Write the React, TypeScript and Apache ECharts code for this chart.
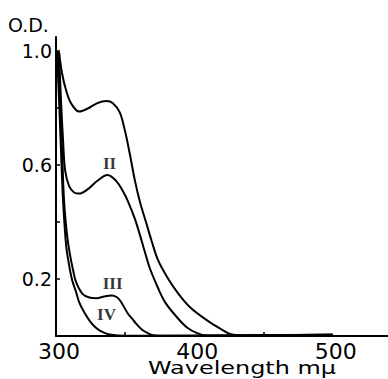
import React, { useEffect, useRef } from 'react';
import * as echarts from 'echarts';

// Curve I
const curveIX = [302.2, 304.4, 307.3, 310.9, 316.8, 322.6, 329.9, 336.5, 340.9, 346.0, 349.6, 353.3, 356.9, 360.6, 365.0, 369.3, 373.7, 380.3, 387.6, 397.1, 409.5, 419.0, 426.3, 433.6, 450, 500];
const curveIY = [0.996, 0.922, 0.863, 0.817, 0.788, 0.798, 0.818, 0.825, 0.818, 0.786, 0.726, 0.641, 0.549, 0.472, 0.401, 0.331, 0.267, 0.207, 0.154, 0.1, 0.054, 0.025, 0.006, 0.002, 0.003, 0.005];
// Curve II
const curveIIX = [302.2, 303.6, 305.1, 306.6, 309.5, 313.1, 316.8, 322.6, 329.9, 337.2, 343.6, 348.4, 352.0, 356.9, 360.6, 364.2, 367.9, 372.8, 378.8, 387.4, 394.7, 402.0, 408.8, 420, 500];
const curveIIY = [0.996, 0.828, 0.687, 0.582, 0.526, 0.504, 0.5, 0.514, 0.545, 0.565, 0.544, 0.508, 0.473, 0.413, 0.356, 0.296, 0.237, 0.179, 0.119, 0.066, 0.03, 0.01, 0.002, 0.002, 0.004];
// Curve III
const curveIIIX = [301.5, 302.9, 304.4, 305.8, 308.0, 310.2, 312.4, 314.6, 319.0, 324.1, 329.2, 335.0, 340.1, 343.8, 346.7, 351.8, 355.5, 358.4, 362.0, 365.7, 370.1, 380, 500];
const curveIIIY = [1.0, 0.828, 0.652, 0.477, 0.354, 0.283, 0.23, 0.188, 0.149, 0.135, 0.133, 0.139, 0.142, 0.137, 0.122, 0.08, 0.058, 0.041, 0.023, 0.012, 0.003, 0.001, 0.003];
// Curve IV
const curveIVX = [300.7, 302.2, 303.6, 305.1, 307.3, 309.5, 311.7, 314.6, 316.8, 320.4, 324.1, 327.7, 331.4, 335.0, 338.7, 344.5, 360, 500];
const curveIVY = [1.0, 0.828, 0.652, 0.476, 0.319, 0.248, 0.196, 0.153, 0.118, 0.083, 0.055, 0.034, 0.02, 0.011, 0.005, 0.002, 0.001, 0.002];

// Curve annotations
const labelNames = ['II', 'III', 'IV'];
const labelX = [338.7, 340.9, 336.5];
const labelY = [0.607, 0.186, 0.074];

// Axis ticks / labels
const xLabelValues = [300, 400, 500];
const xTickValues = [350, 450];
const yLabelValues = [0.2, 0.6, 1.0];
const yTickValues = [0.2, 0.4, 0.6, 0.8, 1.0];

const zip = (xs: number[], ys: number[]) => xs.map((x, i) => [x, ys[i]]);

export default function App() {
  const ref = useRef<HTMLDivElement>(null);
  useEffect(() => {
    const chart = echarts.init(ref.current!, null, { renderer: 'svg' });
    const lineStyle = { color: '#000', width: 2 };
    const curve = (name: string, xs: number[], ys: number[]) => ({
      name,
      type: 'line',
      data: zip(xs, ys),
      smooth: 0.35,
      showSymbol: false,
      symbol: 'none',
      lineStyle,
      z: 3,
    });
    chart.setOption({
      animation: false,
      backgroundColor: '#fff',
      grid: { left: 56, right: 0, top: 37, bottom: 43 },
      xAxis: {
        type: 'value',
        min: 300,
        max: 540,
        axisLine: { show: true, onZero: false, lineStyle: { color: '#000', width: 2 } },
        axisTick: { show: true, inside: true, length: 4, customValues: xTickValues, lineStyle: { color: '#000', width: 1.5 } },
        axisLabel: { customValues: xLabelValues, color: '#000', fontSize: 22, fontFamily: 'DejaVu Sans', margin: 4, padding: [0, 0, 0, 6] },
        splitLine: { show: false },
      },
      yAxis: {
        type: 'value',
        min: 0,
        max: 1.05,
        axisLine: { show: true, onZero: false, lineStyle: { color: '#000', width: 2 } },
        axisTick: { show: true, inside: true, length: 4, customValues: yTickValues, lineStyle: { color: '#000', width: 1.5 } },
        axisLabel: {
          customValues: yLabelValues,
          color: '#000',
          fontSize: 19,
          fontFamily: 'DejaVu Sans',
          margin: 4,
          padding: [0, 0, 8, 0],
          formatter: (v: number) => v.toFixed(1),
        },
        splitLine: { show: false },
      },
      graphic: [
        { type: 'text', left: 8, top: 15, style: { text: 'O.D.', font: '19px DejaVu Sans', fill: '#000' } },
        { type: 'text', x: 148, y: 359, scaleX: 1.33, style: { text: 'Wavelength mμ', font: '18px DejaVu Sans', fill: '#000' } },
      ],
      series: [
        curve('I', curveIX, curveIY),
        curve('II', curveIIX, curveIIY),
        curve('III', curveIIIX, curveIIIY),
        curve('IV', curveIVX, curveIVY),
        {
          name: 'labels',
          type: 'scatter',
          symbolSize: 0,
          data: labelNames.map((n, i) => [labelX[i], labelY[i], n]),
          label: {
            show: true,
            position: 'inside',
            formatter: (p: any) => p.value[2],
            color: '#000',
            fontSize: 17,
            fontWeight: 'bold',
            fontFamily: 'Liberation Serif',
          },
          z: 4,
        },
      ],
    });
    return () => chart.dispose();
  }, []);
  return <div ref={ref} style={{ position: 'absolute', left: 0, top: 0, width: 388, height: 379, background: '#fff' }} />;
}
